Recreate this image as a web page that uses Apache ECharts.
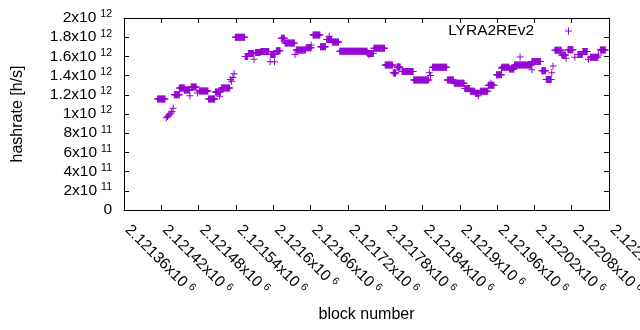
<!DOCTYPE html>
<html><head><meta charset="utf-8">
<script src="https://cdn.jsdelivr.net/npm/echarts@6/dist/echarts.min.js"></script>
<style>html,body{margin:0;padding:0;background:#fff}#c{width:640px;height:330px}</style>
</head><body><div id="c"></div><script>
// ---- data ----
const seriesName = 'LYRA2REv2';
const BASE_BLOCK = 2121360;   // first x tick
const xTickMin = 2121360, xTickMax = 2122140, xTickStep = 60;
const yTickMin = 0, yTickMax = 2e12, yTickStep = 2e11;

// runs of consecutive blocks that share one hashrate (block offsets from BASE_BLOCK)
const runStart = [54, 81, 89, 97, 108, 121, 136, 147, 157, 179, 195, 200, 211, 220, 236, 245, 253, 259, 277, 293, 304, 316, 326, 335, 347, 392, 402, 420, 433, 439, 447, 466, 496, 520, 531, 548, 557, 565, 573, 586, 599, 608, 620, 628, 656, 672, 679, 693, 704, 714, 730, 738, 750, 766];
const runEnd   = [66, 89, 97, 105, 116, 135, 146, 155, 170, 194, 199, 208, 219, 233, 243, 251, 258, 274, 292, 301, 315, 324, 334, 345, 391, 401, 419, 432, 437, 444, 465, 490, 519, 530, 547, 556, 564, 571, 585, 595, 607, 619, 627, 655, 670, 678, 687, 703, 710, 722, 737, 745, 762, 774];
const runRate  = [1.155e12, 1.20e12, 1.27e12, 1.25e12, 1.28e12, 1.24e12, 1.155e12, 1.23e12, 1.27e12, 1.80e12, 1.60e12, 1.63e12, 1.64e12, 1.65e12, 1.62e12, 1.66e12, 1.79e12, 1.74e12, 1.667e12, 1.69e12, 1.823e12, 1.70e12, 1.776e12, 1.75e12, 1.653e12, 1.63e12, 1.685e12, 1.51e12, 1.43e12, 1.49e12, 1.443e12, 1.355e12, 1.486e12, 1.355e12, 1.32e12, 1.265e12, 1.236e12, 1.215e12, 1.236e12, 1.30e12, 1.41e12, 1.486e12, 1.47e12, 1.51e12, 1.548e12, 1.45e12, 1.36e12, 1.663e12, 1.614e12, 1.67e12, 1.62e12, 1.65e12, 1.592e12, 1.667e12];

// isolated points
const singleBlock = [68, 70, 72, 74, 76, 77, 79, 106, 118, 154, 171, 173, 175, 177, 209, 235, 242, 275, 301, 330, 394, 436, 441, 491, 493, 570, 590, 607, 637, 656, 688, 690, 711, 725, 747, 763];
const singleRate  = [0.96e12, 0.975e12, 0.99e12, 1.00e12, 1.01e12, 1.025e12, 1.06e12, 1.19e12, 1.22e12, 1.185e12, 1.36e12, 1.34e12, 1.38e12, 1.42e12, 1.57e12, 1.545e12, 1.545e12, 1.62e12, 1.72e12, 1.81e12, 1.615e12, 1.42e12, 1.49e12, 1.43e12, 1.40e12, 1.19e12, 1.32e12, 1.476e12, 1.595e12, 1.462e12, 1.43e12, 1.50e12, 1.58e12, 1.59e12, 1.57e12, 1.615e12];

// ---- build points ----
const points = [];
for (let i = 0; i < runStart.length; i++) {
  for (let b = runStart[i]; b <= runEnd[i]; b++) points.push([BASE_BLOCK + b, runRate[i]]);
}
for (let i = 0; i < singleBlock.length; i++) points.push([BASE_BLOCK + singleBlock[i], singleRate[i]]);

const FONT = 'Liberation Sans';
const COLOR = '#9400d3';
const PLUS = 'path://M3,0L4,0L4,3L7,3L7,4L4,4L4,7L3,7L3,4L0,4L0,3L3,3Z';
const rich = {
  m: {fontFamily: FONT, fontSize: 15.5, color: '#000'},
  s: {fontFamily: FONT, fontSize: 10.5, color: '#000', padding: [0, 0, 7, 4]}
};
function sci(v) {
  if (v === 0) return '{m|0}';
  const e = Math.floor(Math.log10(v) + 1e-9);
  const m = parseFloat((v / Math.pow(10, e)).toPrecision(6));
  return '{m|' + m + 'x10}{s|' + e + '}';
}
function xFmt(v) {
  const m = parseFloat((v / 1e6).toPrecision(7));
  return '{m|' + m + 'x10}{s|6}';
}
const axisLineStyle = {color: '#000', width: 1};
const chart = echarts.init(document.getElementById('c'), null, {renderer: 'canvas'});
chart.setOption({
  animation: false,
  backgroundColor: '#fff',
  grid: {left: 124, right: 31, top: 18, bottom: 120, show: false, containLabel: false, outerBoundsMode: 'none'},
  legend: {
    data: [seriesName], right: 68, top: 23, padding: 0, align: 'right',
    icon: PLUS, itemWidth: 7, itemHeight: 7,
    itemStyle: {color: COLOR},
    textStyle: {fontFamily: FONT, fontSize: 15.5, color: '#000', padding: [0, 26, 0, 0]}
  },
  xAxis: [{
    type: 'value', min: xTickMin, max: xTickMax, interval: xTickStep,
    name: 'block number', nameLocation: 'middle', nameGap: 97,
    nameTextStyle: {fontFamily: FONT, fontSize: 16, color: '#000'},
    axisLine: {show: true, onZero: false, lineStyle: axisLineStyle},
    axisTick: {show: true, inside: true, length: 5, lineStyle: axisLineStyle},
    splitLine: {show: false},
    axisLabel: {rotate: -45, margin: 14, padding: [0, 0, 0, 5], formatter: xFmt, rich: rich, showMinLabel: true, showMaxLabel: true, hideOverlap: false}
  }, {
    type: 'value', position: 'top', min: xTickMin, max: xTickMax, interval: xTickStep,
    axisLine: {show: true, onZero: false, lineStyle: axisLineStyle},
    axisTick: {show: true, inside: true, length: 5, lineStyle: axisLineStyle},
    splitLine: {show: false}, axisLabel: {show: false}
  }],
  yAxis: [{
    type: 'value', min: yTickMin, max: yTickMax, interval: yTickStep,
    name: 'hashrate [h/s]', nameLocation: 'middle', nameGap: 98,
    nameTextStyle: {fontFamily: FONT, fontSize: 16, color: '#000'},
    axisLine: {show: true, onZero: false, lineStyle: axisLineStyle},
    axisTick: {show: true, inside: true, length: 5, lineStyle: axisLineStyle},
    splitLine: {show: false},
    axisLabel: {margin: 12, formatter: sci, rich: rich}
  }, {
    type: 'value', position: 'right', min: yTickMin, max: yTickMax, interval: yTickStep,
    axisLine: {show: true, onZero: false, lineStyle: axisLineStyle},
    axisTick: {show: true, inside: true, length: 5, lineStyle: axisLineStyle},
    splitLine: {show: false}, axisLabel: {show: false}
  }],
  series: [{
    name: seriesName, type: 'scatter', xAxisIndex: 0, yAxisIndex: 0,
    symbol: PLUS, symbolSize: 7, itemStyle: {color: COLOR, opacity: 1},
    data: points
  }]
});
</script></body></html>
